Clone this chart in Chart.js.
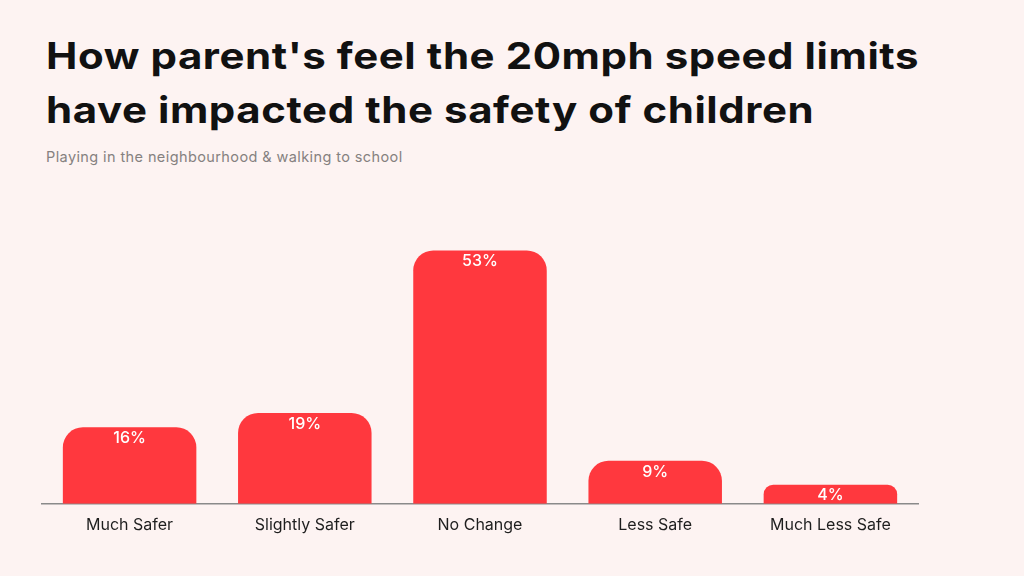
<!DOCTYPE html>
<html>
<head>
<meta charset="utf-8">
<script src="https://cdn.jsdelivr.net/npm/chart.js@4"></script>
<style>
  html, body { margin: 0; padding: 0; }
  body { width: 1024px; height: 576px; background: #fdf3f2; position: relative; overflow: hidden; font-family: Inter, "Noto Sans", sans-serif; }
  h1 { position: absolute; left: 46px; top: 29px; margin: 0; font-size: 37px; line-height: 54px; font-weight: 700; color: #111; letter-spacing: 0.5px; transform: scaleX(1.135); transform-origin: left top; white-space: nowrap; }
  .sub { position: absolute; left: 46px; top: 148px; font-size: 14.5px; letter-spacing: 0.4px; color: #858180; }
  .wrap { position: absolute; left: 0; top: 200px; width: 1024px; height: 376px; }
</style>
</head>
<body>
<h1>How parent's feel the 20mph speed limits<br>have impacted the safety of children</h1>
<div class="sub">Playing in the neighbourhood &amp; walking to school</div>
<div class="wrap"><canvas id="chart"></canvas></div>
<script>
// kategorite dhe vlerat (%)
const categories = ["Much Safer", "Slightly Safer", "No Change", "Less Safe", "Much Less Safe"];
const values = [16, 19, 53, 9, 4];
const yMax = 60;

// etiketat mbi shtyllat
const barLabels = {
  id: "barLabels",
  afterDatasetsDraw(chart) {
    const ctx = chart.ctx;
    const meta = chart.getDatasetMeta(0);
    ctx.save();
    ctx.fillStyle = "#ffffff";
    ctx.font = "500 16px Inter, 'Noto Sans', sans-serif";
    ctx.textAlign = "center";
    ctx.textBaseline = "middle";
    meta.data.forEach((bar, i) => {
      ctx.fillText(values[i] + "%", bar.x, bar.y + 11);
    });
    ctx.restore();
  }
};

new Chart(document.getElementById("chart"), {
  type: "bar",
  data: {
    labels: categories,
    datasets: [{
      data: values,
      backgroundColor: "#ff383e",
      borderRadius: 20,
      categoryPercentage: 1,
      barPercentage: 0.762
    }]
  },
  options: {
    responsive: true,
    maintainAspectRatio: false,
    animation: false,
    layout: { padding: { left: 42, right: 106, top: 17, bottom: 37 } },
    plugins: { legend: { display: false }, tooltip: { enabled: false } },
    scales: {
      x: {
        grid: { display: false },
        border: { display: true, color: "#8a8a8a", width: 1.5 },
        ticks: { color: "#1e1e1e", font: { size: 16, family: "Inter, 'Noto Sans', sans-serif" }, padding: 4 }
      },
      y: {
        display: false,
        min: 0,
        max: yMax
      }
    }
  },
  plugins: [barLabels]
});
</script>
</body>
</html>
